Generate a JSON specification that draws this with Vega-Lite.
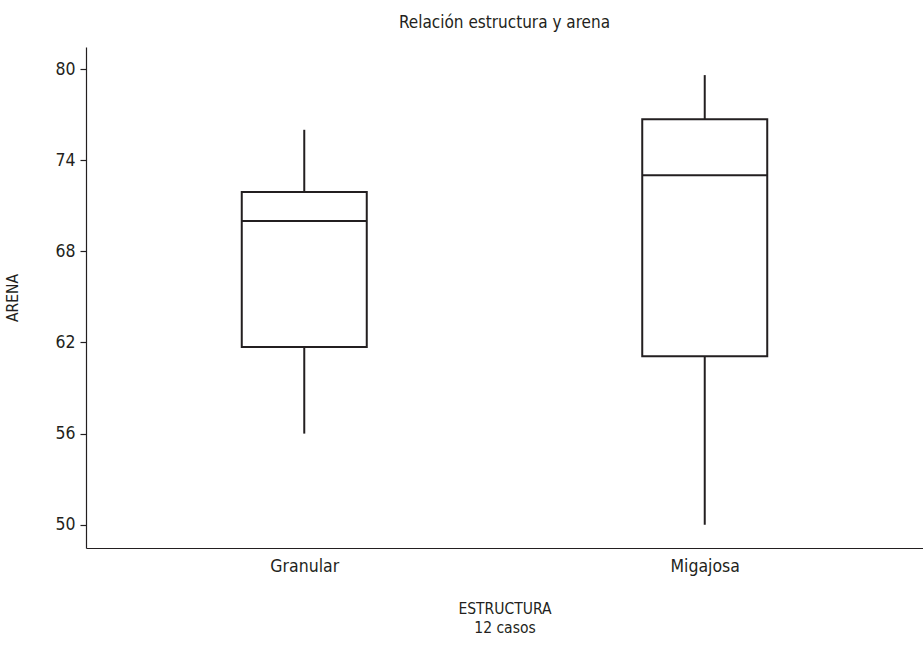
{
  "$schema": "https://vega.github.io/schema/vega-lite/v6.json",
  "width": 837,
  "height": 501,
  "autosize": {"type": "none"},
  "padding": {"left": 86, "top": 47, "right": 0, "bottom": 98},
  "background": "white",
  "title": {
    "text": "Relación estructura y arena",
    "font": "DejaVu Sans Condensed, Roboto Condensed, Roboto, sans-serif",
    "fontSize": 17,
    "fontWeight": "normal",
    "color": "#231f20",
    "anchor": "middle",
    "offset": 15
  },
  "config": {
    "view": {"stroke": null},
    "axis": {
      "grid": false,
      "domainColor": "#231f20",
      "domainWidth": 1.2,
      "tickColor": "#231f20",
      "tickWidth": 1.2,
      "labelFont": "DejaVu Sans Condensed, Roboto Condensed, Roboto, sans-serif",
      "titleFont": "DejaVu Sans Condensed, Roboto Condensed, Roboto, sans-serif",
      "labelColor": "#231f20",
      "titleColor": "#231f20",
      "titleFontWeight": "normal"
    }
  },
  "data": {
    "values": [
      {"estructura": "Granular", "min": 56, "q1": 61.7, "median": 70, "q3": 71.9, "max": 76},
      {"estructura": "Migajosa", "min": 50, "q1": 61.1, "median": 73, "q3": 76.7, "max": 79.6}
    ]
  },
  "encoding": {
    "x": {
      "field": "estructura",
      "type": "nominal",
      "scale": {"type": "point", "padding": 0.545},
      "axis": {
        "ticks": false,
        "labelAngle": 0,
        "labelFontSize": 17.5,
        "labelPadding": 9,
        "title": ["ESTRUCTURA", "12 casos"],
        "titleFontSize": 15.5,
        "titleLineHeight": 19,
        "titlePadding": 27
      }
    }
  },
  "layer": [
    {
      "mark": {"type": "rule", "color": "#231f20", "strokeWidth": 2},
      "encoding": {
        "y": {
          "field": "min",
          "type": "quantitative",
          "scale": {"domain": [48.47, 81.45], "nice": false, "zero": false},
          "axis": {
            "values": [50, 56, 62, 68, 74, 80],
            "tickSize": 6,
            "labelPadding": 5,
            "labelFontSize": 17.5,
            "title": "ARENA",
            "titleFontSize": 15.5,
            "titlePadding": 34
          }
        },
        "y2": {"field": "q1"}
      }
    },
    {
      "mark": {"type": "rule", "color": "#231f20", "strokeWidth": 2},
      "encoding": {
        "y": {"field": "q3", "type": "quantitative"},
        "y2": {"field": "max"}
      }
    },
    {
      "mark": {"type": "bar", "fill": "white", "stroke": "#231f20", "strokeWidth": 2, "size": 125},
      "encoding": {
        "y": {"field": "q1", "type": "quantitative"},
        "y2": {"field": "q3"}
      }
    },
    {
      "mark": {"type": "tick", "color": "#231f20", "opacity": 1, "thickness": 2, "size": 125, "orient": "horizontal"},
      "encoding": {
        "y": {"field": "median", "type": "quantitative"}
      }
    }
  ]
}
